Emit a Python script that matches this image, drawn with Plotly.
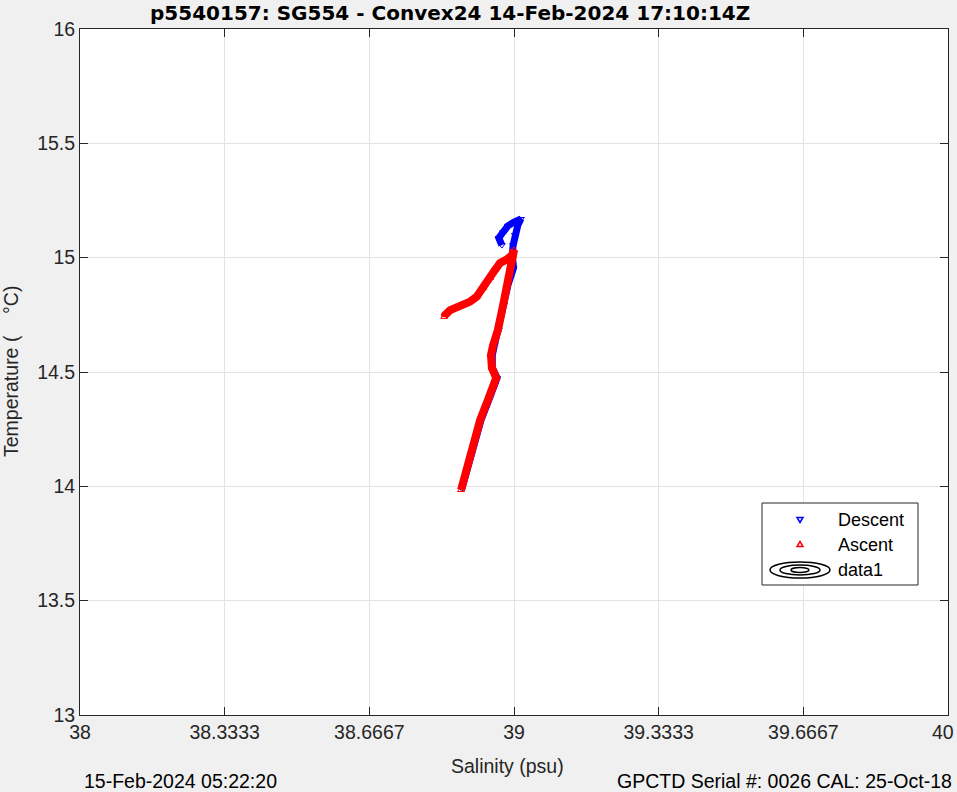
import plotly.graph_objects as go

# ---------------- data ----------------
descent_salinity = [38.972, 38.965, 38.975, 38.986, 39.000, 39.016, 39.009, 39.002,
                    38.998, 38.996, 38.999, 38.986, 38.977, 38.965, 38.955, 38.950,
                    38.950, 38.961, 38.956, 38.942, 38.924, 38.901, 38.880]
descent_temperature = [15.055, 15.086, 15.112, 15.139, 15.156, 15.169, 15.143, 15.099,
                       15.055, 15.012, 14.955, 14.880, 14.793, 14.684, 14.618, 14.574,
                       14.518, 14.474, 14.443, 14.378, 14.290, 14.137, 13.990]

ascent_salinity = [38.878, 38.899, 38.922, 38.940, 38.954, 38.959, 38.949, 38.947,
                   38.952, 38.963, 38.975, 38.984, 38.991, 38.998, 39.000, 38.995,
                   38.982, 38.968, 38.956, 38.945, 38.929, 38.914, 38.899, 38.876,
                   38.853, 38.841, 38.839]
ascent_temperature = [13.984, 14.137, 14.290, 14.378, 14.443, 14.474, 14.518, 14.574,
                      14.618, 14.684, 14.793, 14.880, 14.955, 15.012, 15.034, 15.010,
                      14.990, 14.977, 14.946, 14.911, 14.867, 14.829, 14.808, 14.786,
                      14.771, 14.749, 14.741]

x_tick_values = [38, 38 + 1 / 3, 38 + 2 / 3, 39, 39 + 1 / 3, 39 + 2 / 3, 40]
x_tick_labels = ["38", "38.3333", "38.6667", "39", "39.3333", "39.6667", "40"]
y_tick_values = [13, 13.5, 14, 14.5, 15, 15.5, 16]
y_tick_labels = ["13", "13.5", "14", "14.5", "15", "15.5", "16"]

legend_labels = ["Descent", "Ascent", "data1"]
title_text = "p5540157: SG554 - Convex24 14-Feb-2024 17:10:14Z"
footer_left = "15-Feb-2024 05:22:20"
footer_right = "GPCTD Serial #: 0026 CAL: 25-Oct-18"

# ---------------- layout helpers ----------------
W, H = 957, 792
L, R, T, B = 80, 948, 29, 715  # plot area in pixels


def px(x):
    return (x - L) / (R - L)


def py(y):
    return (B - y) / (B - T)


FONT = "Liberation Sans, Arial, Helvetica, sans-serif"
TXT = "#262626"
FS = 19.5

fig = go.Figure()

fig.add_trace(go.Scatter(
    x=descent_salinity, y=descent_temperature, mode="lines+markers",
    line=dict(color="#0000ff", width=7),
    marker=dict(symbol="triangle-down-open", size=6, color="#0000ff"),
    name="Descent", showlegend=False))
fig.add_trace(go.Scatter(
    x=ascent_salinity, y=ascent_temperature, mode="lines+markers",
    line=dict(color="#ff0000", width=8),
    marker=dict(symbol="triangle-up-open", size=6, color="#ff0000"),
    name="Ascent", showlegend=False))

axis_common = dict(
    showgrid=True, gridcolor="#e3e3e3", gridwidth=1,
    showline=True, linecolor=TXT, linewidth=1, mirror="ticks",
    ticks="inside", ticklen=8, tickcolor=TXT, tickwidth=1,
    tickfont=dict(family=FONT, size=FS, color=TXT),
    zeroline=False, fixedrange=True, automargin=False,
)

# the last x label sits at the very edge of the figure; it is drawn as an
# annotation (right-aligned) so that it is not clipped
x_ticktext_axis = x_tick_labels[:-1] + [""]
fig.update_xaxes(range=[38, 40], tickmode="array", tickvals=x_tick_values,
                 ticktext=x_ticktext_axis, **axis_common)
fig.update_yaxes(range=[13, 16], tickmode="array", tickvals=y_tick_values,
                 ticktext=y_tick_labels, **axis_common)

shapes = []
# legend box
shapes.append(dict(type="rect", xref="paper", yref="paper",
                   x0=px(762), x1=px(918), y0=py(585), y1=py(503),
                   line=dict(color="#262626", width=1), fillcolor="white", layer="above"))
# descent marker (triangle down)
cx, cy = 800, 520
shapes.append(dict(type="path", xref="paper", yref="paper",
                   path=f"M {px(cx-3)},{py(cy-2.5)} L {px(cx+3)},{py(cy-2.5)} L {px(cx)},{py(cy+2.5)} Z",
                   line=dict(color="#0000ff", width=1.5), layer="above"))
# ascent marker (triangle up)
cx, cy = 800, 544
shapes.append(dict(type="path", xref="paper", yref="paper",
                   path=f"M {px(cx-3)},{py(cy+2.5)} L {px(cx+3)},{py(cy+2.5)} L {px(cx)},{py(cy-2.5)} Z",
                   line=dict(color="#ff0000", width=1.5), layer="above"))
# data1 contour icon
cx, cy = 800, 570
for hw, hh in [(30, 8), (20, 5), (9, 2.5)]:
    shapes.append(dict(type="circle", xref="paper", yref="paper",
                       x0=px(cx - hw), x1=px(cx + hw), y0=py(cy + hh), y1=py(cy - hh),
                       line=dict(color="black", width=1.5), layer="above"))

annotations = [
    dict(text=f"<b>{title_text}</b>", x=px(450), y=py(13), xref="paper", yref="paper",
         showarrow=False, xanchor="center", yanchor="middle",
         font=dict(family="DejaVu Sans, " + FONT, size=20, color="black")),
    dict(text=x_tick_labels[-1], x=px(956), y=py(732), xref="paper", yref="paper",
         showarrow=False, xanchor="right", yanchor="middle",
         font=dict(family=FONT, size=FS, color=TXT)),
    dict(text="Salinity (psu)", x=px(507), y=py(766), xref="paper", yref="paper",
         showarrow=False, xanchor="center", yanchor="middle",
         font=dict(family=FONT, size=FS, color=TXT)),
    dict(text="Temperature (    °C)", x=px(11), y=py(372), xref="paper", yref="paper",
         showarrow=False, xanchor="center", yanchor="middle", textangle=-90,
         font=dict(family=FONT, size=FS, color=TXT)),
    dict(text=footer_left, x=px(82), y=py(781), xref="paper", yref="paper",
         showarrow=False, xanchor="left", yanchor="middle",
         font=dict(family=FONT, size=FS, color="black")),
    dict(text=footer_right, x=px(954), y=py(781), xref="paper", yref="paper",
         showarrow=False, xanchor="right", yanchor="middle",
         font=dict(family=FONT, size=FS, color="black")),
]
for label, ly in zip(legend_labels, [520, 545, 570]):
    annotations.append(dict(text=label, x=px(836), y=py(ly), xref="paper", yref="paper",
                            showarrow=False, xanchor="left", yanchor="middle",
                            font=dict(family=FONT, size=18, color="black")))

fig.update_layout(
    width=W, height=H,
    margin=dict(l=L, r=W - R, t=T, b=H - B, pad=0),
    paper_bgcolor="#f0f0f0", plot_bgcolor="white",
    shapes=shapes, annotations=annotations, showlegend=False,
)

fig.write_html("out.html", config={"displayModeBar": False},
               post_script="document.body.style.margin='0';document.body.style.padding='0';")
